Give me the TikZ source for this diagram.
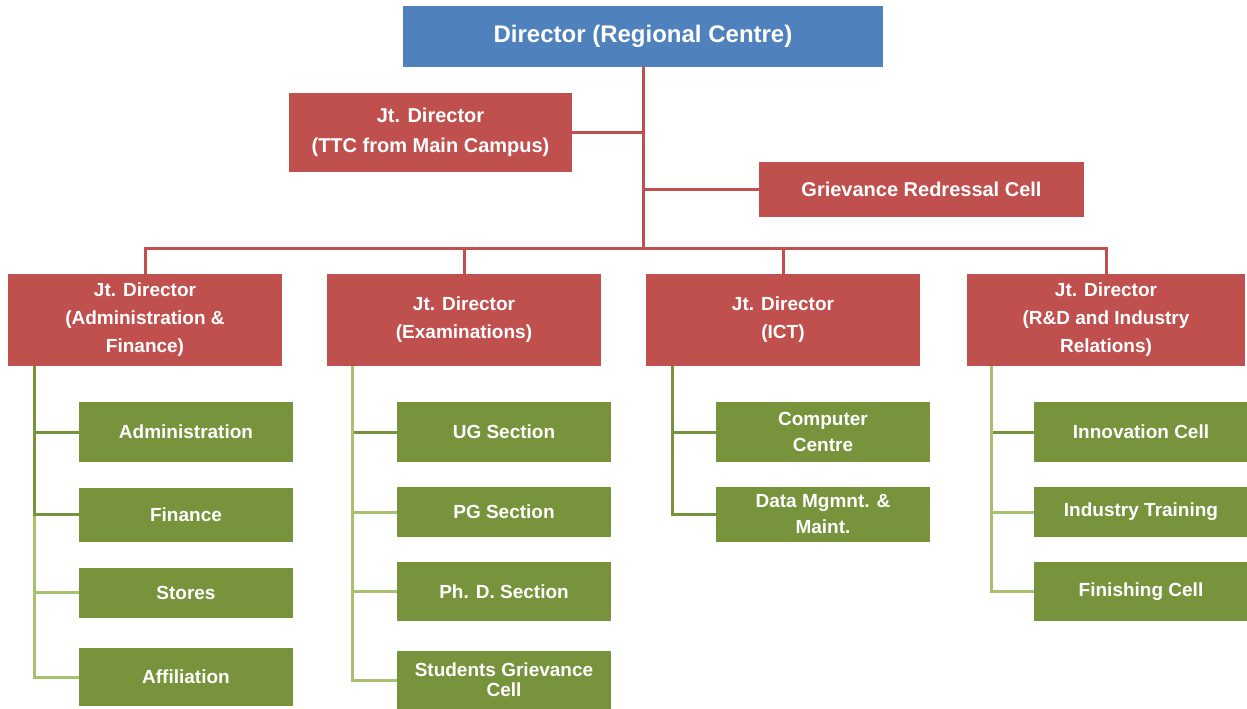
\documentclass[tikz,border=0pt]{standalone}
\usepackage{fontspec}
\setmainfont{Liberation Sans}
\definecolor{dirblue}{HTML}{4F81BD}
\definecolor{jdred}{HTML}{C0504D}
\definecolor{cellgreen}{HTML}{77933C}
\definecolor{linkdark}{HTML}{77933C}
\definecolor{linklight}{HTML}{A9C06E}
\begin{document}
\begin{tikzpicture}[x=1pt,y=1pt,
  box/.style={rectangle, inner sep=0pt, text=white, align=center},
  topbox/.style={box, fill=dirblue, font=\fontsize{24}{30}\selectfont\bfseries},
  jdbox/.style={box, fill=jdred, font=\fontsize{19}{28}\selectfont\bfseries},
  sidebox/.style={box, fill=jdred, font=\fontsize{20}{30}\selectfont\bfseries},
  cellbox/.style={box, fill=cellgreen, minimum width=214pt, font=\fontsize{19}{26}\selectfont\bfseries},
  redlink/.style={draw=jdred, line width=3pt},
  darklink/.style={draw=linkdark, line width=3pt},
  lightlink/.style={draw=linklight, line width=3pt}]
\useasboundingbox (0,0) rectangle (1247,-709);

% top level
\node[topbox, minimum width=480pt, minimum height=61pt] (dir) at (643,-36.5) {Director (Regional Centre)};
\node[sidebox, minimum width=283pt, minimum height=79pt] (ttc) at (430.5,-132.5) {Jt. Director\\(TTC from Main Campus)};
\node[sidebox, minimum width=325pt, minimum height=55pt] (grc) at (921.5,-189.5) {Grievance Redressal Cell};
\coordinate (bus) at (643,-248);

% joint directors
\node[jdbox, minimum width=274pt, minimum height=92pt] (adf) at (145,-320) {Jt. Director\\(Administration \&\\Finance)};
\node[jdbox, minimum width=274pt, minimum height=92pt] (exm) at (464,-320) {Jt. Director\\(Examinations)};
\node[jdbox, minimum width=274pt, minimum height=92pt] (ict) at (783,-320) {Jt. Director\\(ICT)};
\node[jdbox, minimum width=278pt, minimum height=92pt] (rnd) at (1106,-320) {Jt. Director\\(R\&D and Industry\\Relations)};

% sections
\node[cellbox, minimum height=60pt] (adm) at (186,-432) {Administration};
\node[cellbox, minimum height=54pt] (fin) at (186,-514.5) {Finance};
\node[cellbox, minimum height=50pt] (sto) at (186,-592.5) {Stores};
\node[cellbox, minimum height=58pt] (aff) at (186,-677) {Affiliation};

\node[cellbox, minimum height=60pt] (ugs) at (504,-432) {UG Section};
\node[cellbox, minimum height=50pt] (pgs) at (504,-512) {PG Section};
\node[cellbox, minimum height=59pt] (phd) at (504,-591.5) {Ph. D. Section};
\node[cellbox, minimum height=58pt] (sgc) at (504,-680) {Students Grievance\\[-6pt]Cell};

\node[cellbox, minimum height=60pt] (cc) at (823,-432) {Computer\\Centre};
\node[cellbox, minimum height=55pt] (dmm) at (823,-514.5) {Data Mgmnt. \&\\Maint.};

\node[cellbox, minimum height=60pt] (inn) at (1141,-432) {Innovation Cell};
\node[cellbox, minimum height=50pt] (ind) at (1141,-512) {Industry Training};
\node[cellbox, minimum height=59pt] (fcl) at (1141,-591.5) {Finishing Cell};

% red links
\draw[redlink] (dir.south) -- (bus);
\draw[redlink] (ttc.east) -- (ttc.east -| dir.south);
\draw[redlink] (grc.west) -- (grc.west -| dir.south);
\draw[redlink] (bus) -| (adf.north);
\draw[redlink] (bus) -| (exm.north);
\draw[redlink] (bus) -| (ict.north);
\draw[redlink] (bus) -| (rnd.north);

% green links: administration & finance
\draw[lightlink] ([xshift=27pt]adf.south west) |- (aff.west);
\draw[lightlink] ([xshift=27pt]adf.south west) |- (sto.west);
\draw[darklink] ([xshift=27pt]adf.south west) |- (fin.west);
\draw[darklink] ([xshift=27pt]adf.south west) |- (adm.west);
% examinations
\draw[darklink] ([xshift=26pt]exm.south west) |- (ugs.west);
\draw[lightlink] ([xshift=26pt]exm.south west) |- (pgs.west);
\draw[lightlink] ([xshift=26pt]exm.south west) |- (phd.west);
\draw[lightlink] ([xshift=26pt]exm.south west) |- (sgc.west);
% ICT
\draw[darklink] ([xshift=27pt]ict.south west) |- (dmm.west);
\draw[darklink] ([xshift=27pt]ict.south west) |- (cc.west);
% R&D
\draw[darklink] ([xshift=25pt]rnd.south west) |- (inn.west);
\draw[lightlink] ([xshift=25pt]rnd.south west) |- (ind.west);
\draw[lightlink] ([xshift=25pt]rnd.south west) |- (fcl.west);
\end{tikzpicture}
\end{document}
